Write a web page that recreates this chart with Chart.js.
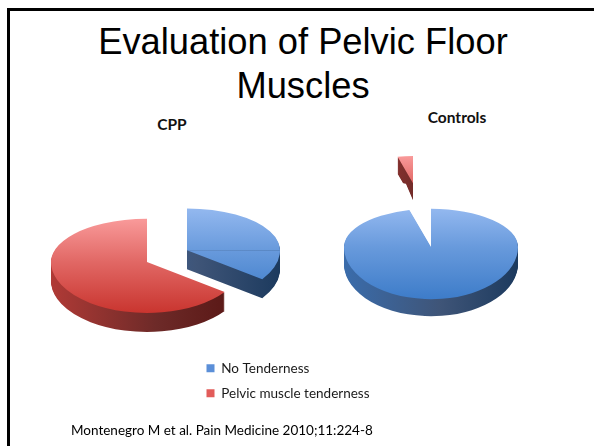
<!DOCTYPE html>
<html>
<head>
<meta charset="utf-8">
<script src="https://cdn.jsdelivr.net/npm/chart.js@4"></script>
<style>
  html, body { margin: 0; padding: 0; background: #fff; }
  #slide { position: relative; width: 594px; height: 446px; overflow: hidden; background: #fff; }
  #frameTop { position: absolute; left: 7px; top: 8px; width: 587px; height: 3px; background: #000; }
  #frameLeft { position: absolute; left: 7px; top: 8px; width: 2.5px; height: 438px; background: #000; }
  #heading { position: absolute; left: 0; width: 606px; top: 20px; text-align: center; font: 36.3px/44px "Liberation Sans", Arial, sans-serif; color: #000; }
  #cite { position: absolute; left: 71px; top: 422px; font: 13.5px/16px Lato, sans-serif; color: #000; white-space: nowrap; }
  .pieName { position: absolute; text-align: center; font: bold 15.5px/16px Lato, sans-serif; color: #111; }
  canvas { position: absolute; left: 0; top: 0; }
</style>
</head>
<body>
<div id="slide">
  <div id="frameTop"></div>
  <div id="frameLeft"></div>
  <div id="heading">Evaluation of Pelvic Floor<br>Muscles</div>
  <div class="pieName" style="left:142px;top:116px;width:60px">CPP</div>
  <div class="pieName" style="left:417px;top:109px;width:80px">Controls</div>
  <canvas id="CppChart" width="594" height="446"></canvas>
  <canvas id="ControlsChart" width="594" height="446"></canvas>
  <div id="cite">Montenegro M et al. Pain Medicine 2010;11:224-8</div>
</div>
<script>
const categories = ["No Tenderness", "Pelvic muscle tenderness"];
const cppValues = [35, 65];
const controlValues = [96, 4];

const blue = { top: "#93b8ef", bottom: "#3d7cc9", rimL: "#3a6cab", rimR: "#1c3a5e", wall: "#3f5578", legend: "#5b8fd8" };
const red = { top: "#f99a9a", bottom: "#c9352f", rimL: "#b03a36", rimR: "#571513", wall: "#6d2a28", legend: "#e25c5a" };
const palettes = [blue, red];

// squashes the flat pie into a tilted one and adds the side wall
const tiltPlugin = {
  id: "tilt",
  afterDatasetsUpdate(chart, args, opts) {
    // exploded slices: moved by hand, the offset option also grows the radius
    chart.getDatasetMeta(0).data.forEach((arc, i) => {
      arc.x += opts.pull[i][0];
      arc.y += opts.pull[i][1];
      arc.outerRadius = opts.sliceRadius[i];
    });
  },
  beforeDatasetDraw(chart, args, opts) {
    const ctx = chart.ctx;
    const arcs = args.meta.data;

    function paintWalls(arc, i, sy) {
      const p = palettes[i];
      const saved = arc.options;
      const wall = ctx.createLinearGradient(arc.x - arc.outerRadius, 0, arc.x + arc.outerRadius, 0);
      wall.addColorStop(0, p.rimL);
      wall.addColorStop(0.55, p.wall);
      wall.addColorStop(1, p.rimR);
      arc.options = Object.assign({}, saved, { backgroundColor: wall });
      for (let d = opts.depth; d > 0; d--) {
        ctx.save();
        ctx.translate(0, d / sy);
        arc.draw(ctx);
        ctx.restore();
      }
      arc.options = saved;
    }

    function paintTop(arc, i) {
      const p = palettes[i];
      const saved = arc.options;
      const top = ctx.createLinearGradient(0, arc.y - arc.outerRadius, 0, arc.y + arc.outerRadius);
      top.addColorStop(0, p.top);
      top.addColorStop(1, p.bottom);
      arc.options = Object.assign({}, saved, { backgroundColor: top });
      arc.draw(ctx);
      arc.options = saved;
    }

    // far half of a slice is foreshortened more than the near half, split at its apex
    function half(arc, i, clipTop, clipH, apexY, sy, paint) {
      ctx.save();
      ctx.beginPath();
      ctx.rect(0, clipTop, chart.width, clipH);
      ctx.clip();
      ctx.translate(arc.x, apexY);
      ctx.scale(1, sy);
      ctx.translate(-arc.x, -arc.y);
      paint(arc, i, sy);
      ctx.restore();
    }

    [paintWalls, paintTop].forEach((paint) => {
      arcs.forEach((arc, i) => {
        const apexY = opts.cy + opts.pull[i][1] * opts.backScale;
        half(arc, i, 0, apexY, apexY, opts.backScale, paint);
        half(arc, i, apexY, chart.height - apexY, apexY, opts.frontScale, paint);
      });
    });
    return false;
  }
};

// legend sits under both pies, not beside the plot
const legendSpot = {
  id: "legendSpot",
  afterLayout(chart, args, opts) {
    const l = chart.legend;
    if (!opts.left) return;
    l.left = opts.left;
    l.top = opts.top;
    l.right = l.left + l.width;
    l.bottom = l.top + l.height;
  }
};

function makePie(id, values, tilt, layoutPad, showLegend) {
  return new Chart(document.getElementById(id), {
    type: "pie",
    data: {
      labels: categories,
      datasets: [{
        data: values,
        backgroundColor: [blue.legend, red.legend],
        borderWidth: 0,
        hoverOffset: 0
      }]
    },
    plugins: [tiltPlugin, legendSpot],
    options: {
      responsive: false,
      animation: false,
      events: [],
      layout: { padding: layoutPad },
      plugins: {
        tilt: tilt,
        legendSpot: showLegend ? { left: 195, top: 350 } : {},
        tooltip: { enabled: false },
        legend: {
          display: showLegend,
          position: "chartArea",
          align: "start",
          labels: {
            boxWidth: 8, boxHeight: 8, padding: 11.5,
            color: "#1a1a1a",
            font: { family: "Lato", size: 13.5 }
          }
        },
        title: { display: false }
      }
    }
  });
}

// pie centres are set through the layout padding
makePie("CppChart", cppValues,
  { depth: 19, cy: 262, backScale: 0.45, frontScale: 0.53, pull: [[40, -26], [0, 0]], sliceRadius: [93, 96] },
  { left: 0, right: 300, top: 76, bottom: 0 }, true);
makePie("ControlsChart", controlValues,
  { depth: 17, cy: 247, backScale: 0.44, frontScale: 0.6, pull: [[0, 0], [-18, -145]], sliceRadius: [87, 62] },
  { left: 268, right: 0, top: 48, bottom: 0 }, false);
</script>
</body>
</html>
